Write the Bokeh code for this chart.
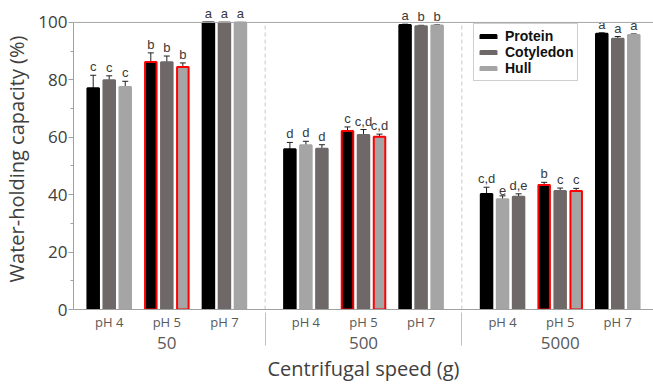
from bokeh.plotting import figure
from bokeh.models import (FactorRange, ColumnDataSource, Whisker, LabelSet, Span,
                          Legend, LegendItem, TeeHead, FixedTicker)
from bokeh.embed import file_html
from bokeh.resources import INLINE
from bokeh.core.properties import value

speeds = ["50", "500", "5000"]
phs = ["pH 4", "pH 5", "pH 7"]
materials = ["Protein", "Cotyledon", "Hull"]

# values in order: (50,pH4),(50,pH5),(50,pH7),(500,pH4),...,(5000,pH7)
protein = [77.1, 86.2, 100.0, 55.8, 62.2, 99.1, 40.2, 43.4, 96.1]
protein_err = [4.5, 3.2, 0.0, 2.4, 1.4, 0.3, 2.4, 0.9, 0.3]
protein_letters = ["c", "b", "a", "d", "c", "a", "c,d", "b", "a"]
cotyledon = [79.9, 86.1, 100.0, 56.0, 60.8, 98.7, 39.3, 41.3, 94.3]
cotyledon_err = [1.5, 2.2, 0.0, 1.4, 1.9, 0.3, 1.0, 1.0, 0.8]
cotyledon_letters = ["c", "b", "a", "d", "c,d", "b", "d,e", "c", "a"]
hull = [77.5, 84.5, 100.0, 57.2, 60.2, 98.9, 38.4, 41.3, 95.6]
hull_err = [2.0, 1.4, 0.0, 1.4, 0.9, 0.3, 1.2, 0.9, 0.4]
hull_letters = ["c", "b", "a", "d", "c,d", "b", "e", "c", "a"]
y_ticks = [0, 20, 40, 60, 80, 100]
y_minor = [10, 30, 50, 70, 90]

# groups where the hull bar is drawn before the cotyledon bar
swapped = [("500", "pH 4"), ("5000", "pH 4")]
# bars with red outline
highlighted = [("pH 5", "Protein"), ("pH 5", "Hull")]

colors = {"Protein": "#000000", "Cotyledon": "#6e6968", "Hull": "#a5a5a5"}
series = {"Protein": (protein, protein_err, protein_letters),
          "Cotyledon": (cotyledon, cotyledon_err, cotyledon_letters),
          "Hull": (hull, hull_err, hull_letters)}

GROUP_PAD = 0.414
PITCH = 0.278
BAR_W = 0.2
Y_TOP = 104.86

factors = [(s, ph) for s in speeds for ph in phs]
x_range = FactorRange(*factors, group_padding=GROUP_PAD, factor_padding=0.0,
                      range_padding=0.12, range_padding_units="absolute")

p = figure(width=653, height=384, x_range=x_range, y_range=(0, Y_TOP),
           output_backend="svg", toolbar_location=None,
           min_border_left=73, min_border_right=0, min_border_top=8, min_border_bottom=0)
p.outline_line_color = None
p.xgrid.grid_line_color = None
p.ygrid.grid_line_color = None

items = []
for m in materials:
    vals, errs, lets = series[m]
    xs, tops, lows, ups, lcol = [], [], [], [], []
    i = 0
    for s in speeds:
        for ph in phs:
            order = ["Protein", "Hull", "Cotyledon"] if (s, ph) in swapped else materials
            off = (order.index(m) - 1) * PITCH
            xs.append((s, ph, off))
            tops.append(vals[i])
            lows.append(vals[i] - errs[i])
            ups.append(vals[i] + errs[i])
            lcol.append("#ff0000" if (ph, m) in highlighted else colors[m])
            i += 1
    src = ColumnDataSource(dict(x=xs, top=tops, lower=lows, upper=ups, lc=lcol, lab=lets))
    r = p.vbar(x="x", top="top", width=BAR_W, source=src, fill_color=colors[m],
               line_color="lc", line_width=2)
    items.append(LegendItem(label=m, renderers=[r]))
    w = Whisker(base="x", lower="lower", upper="upper", source=src,
                line_color="#202020", line_width=1,
                upper_head=TeeHead(size=6, line_color="#202020", line_width=1),
                lower_head=TeeHead(size=6, line_color="#202020", line_width=1))
    p.add_layout(w)
    ls = LabelSet(x="x", y="upper", text="lab", source=src, text_align="center",
                  text_baseline="bottom", y_offset=1, text_font=value("Liberation Sans"),
                  text_font_size="13px", text_color="#383838")
    p.add_layout(ls)

# group dividers (dashed, in the plot area)
div_x = [(speeds[k], phs[-1], 0.5 + GROUP_PAD / 2) for k in range(len(speeds) - 1)]
p.segment(x0=div_x, x1=div_x, y0=[0] * len(div_x), y1=[100] * len(div_x),
          line_color="#c8c8c8", line_dash="4 3", line_width=1)

p.add_layout(Span(location=100, dimension="width", line_color="#a6a6a6", line_width=1))

legend = Legend(items=items, location=(400, 228), border_line_color="#a0a0a0",
                label_text_font="Liberation Sans", label_text_font_style="bold",
                label_text_font_size="14px", label_text_color="#111111",
                glyph_width=20, glyph_height=5,
                label_height=12, spacing=0, padding=4, margin=0, label_standoff=7)
p.add_layout(legend)

# y axis
ya = p.yaxis[0]
ya.bounds = (0, 100)
ya.ticker = FixedTicker(ticks=y_ticks, minor_ticks=y_minor)
ya.axis_label = "Water-holding capacity (%)"
ya.axis_label_text_font = "Open Sans"
ya.axis_label_text_font_style = "normal"
ya.axis_label_text_font_size = "20px"
ya.axis_label_text_color = "#404040"
ya.axis_label_standoff = 5
ya.major_label_text_font = "Open Sans"
ya.major_label_text_font_size = "17px"
ya.major_label_text_color = "#404040"
ya.major_label_standoff = 1
ya.axis_line_color = "#a0a0a0"
ya.major_tick_line_color = "#a0a0a0"
ya.minor_tick_line_color = "#a0a0a0"
ya.major_tick_in = 0
ya.major_tick_out = 5
ya.minor_tick_in = 0
ya.minor_tick_out = 3

# x axis
xa = p.xaxis[0]
xa.axis_label = "Centrifugal speed (g)"
xa.axis_label_text_font = "Open Sans"
xa.axis_label_text_font_style = "normal"
xa.axis_label_text_font_size = "20px"
xa.axis_label_text_color = "#404040"
xa.axis_label_standoff = 3
xa.major_label_text_font = "Open Sans"
xa.major_label_text_font_size = "13px"
xa.major_label_text_color = "#595959"
xa.major_label_standoff = 3
xa.group_text_font = "Open Sans"
xa.group_text_font_size = "17px"
xa.group_text_font_style = "normal"
xa.group_text_color = "#595959"
xa.axis_line_color = "#a0a0a0"
xa.major_tick_line_color = None
xa.major_tick_out = 0
xa.major_tick_in = 0
xa.minor_tick_line_color = None
xa.separator_line_color = "#c0c0c0"
xa.separator_line_width = 1

open("out.html", "w").write(file_html(p, INLINE))
